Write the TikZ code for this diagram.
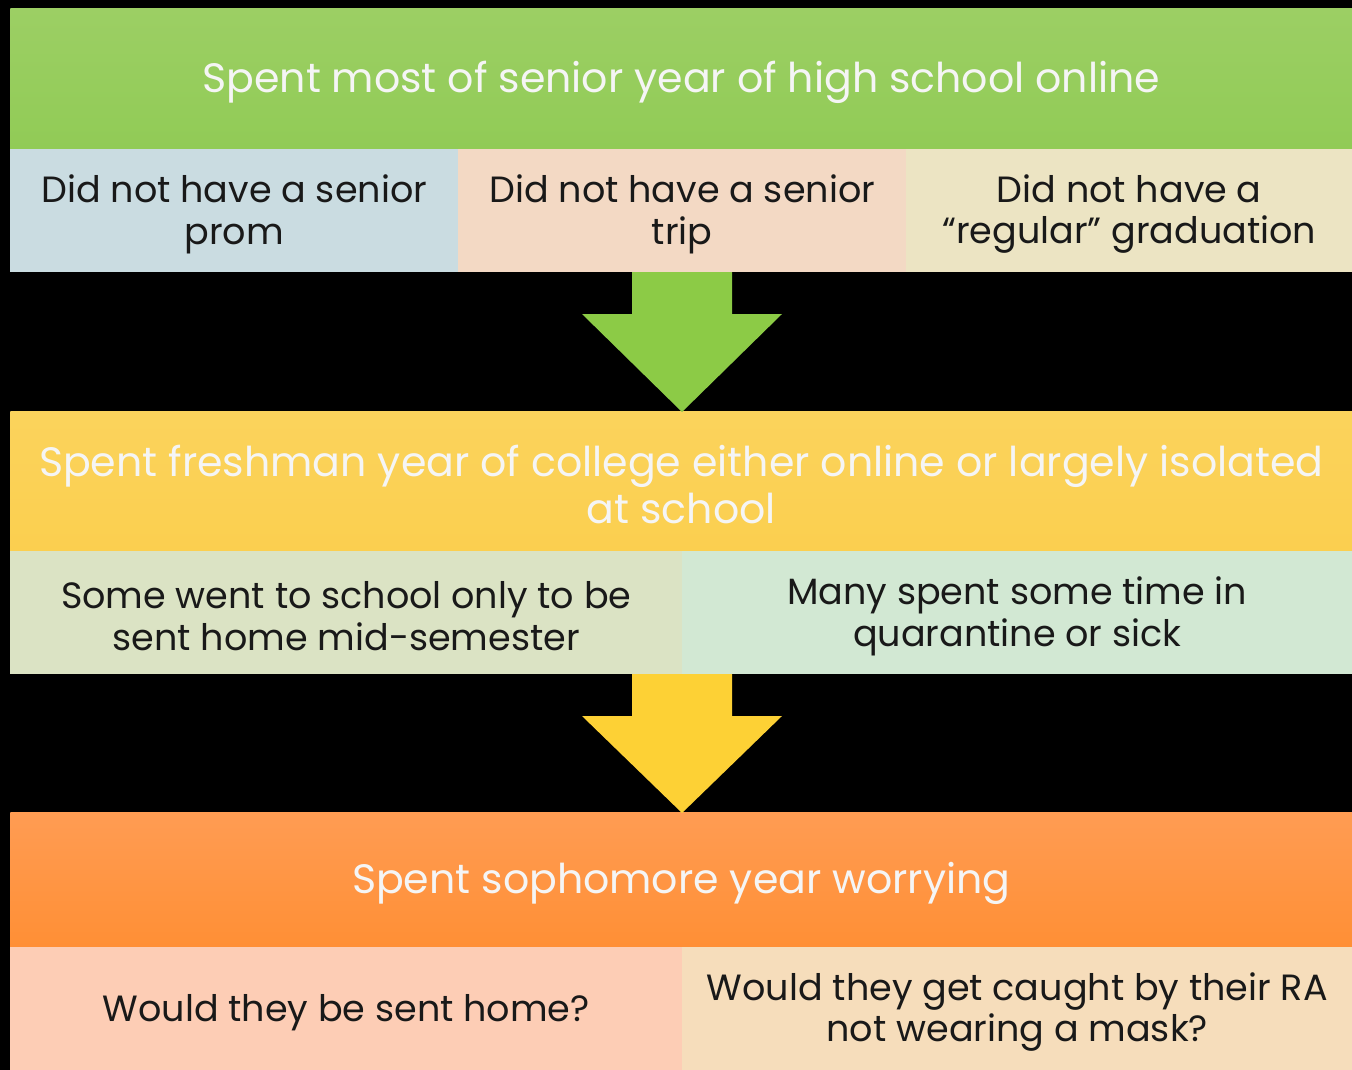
\documentclass[tikz,border=0pt]{standalone}
\usepackage{fontspec}
\setmainfont{Poppins}
\begin{document}
\begin{tikzpicture}[x=0.75pt,y=-0.75pt,
  box/.style={draw=none,anchor=north west,inner sep=0pt},
  hdr/.style={inner sep=0pt,text=white!96!black,align=center,yshift=-3.5*0.75pt,font=\fontsize{30.8}{35.5}\selectfont},
  sub/.style={inner sep=0pt,text=black!90,align=center,yshift=-3.5*0.75pt,font=\fontsize{27.4}{31}\selectfont}]
\fill[black] (0,0) rectangle (1352,1070);
\useasboundingbox (0,0) rectangle (1352,1070);
\definecolor{gA}{HTML}{9CCF64}\definecolor{gB}{HTML}{91CB56}
\definecolor{yA}{HTML}{FBD35C}\definecolor{yB}{HTML}{FBCF4F}
\definecolor{oA}{HTML}{FF9C53}\definecolor{oB}{HTML}{FF8F35}
\definecolor{s1}{HTML}{CADCE1}\definecolor{s2}{HTML}{F3D9C4}\definecolor{s3}{HTML}{ECE4C3}
\definecolor{s4}{HTML}{DBE3C4}\definecolor{s5}{HTML}{D2E8D3}
\definecolor{s6}{HTML}{FDCDB5}\definecolor{s7}{HTML}{F6DDBB}
\definecolor{arG}{HTML}{8CCB46}\definecolor{arY}{HTML}{FDD135}

\node[box,top color=gA,bottom color=gB,minimum width=1342*0.75pt,minimum height=141*0.75pt] (h1) at (10,8) {};
\node[hdr] (h1t) at (h1.center) {Spent most of senior year of high school online};
\node[box,fill=s1,minimum width=448*0.75pt,minimum height=123*0.75pt] (a1) at (10,149) {};
\node[sub] (a1t) at (a1.center) {Did not have a senior\\prom};
\node[box,fill=s2,minimum width=448*0.75pt,minimum height=123*0.75pt] (a2) at (458,149) {};
\node[sub] (a2t) at (a2.center) {Did not have a senior\\trip};
\node[box,fill=s3,minimum width=446*0.75pt,minimum height=123*0.75pt] (a3) at (906,149) {};
\node[sub] (a3t) at (a3.center) {Did not have a\\“regular” graduation};

\node[box,top color=yA,bottom color=yB,minimum width=1342*0.75pt,minimum height=140*0.75pt] (h2) at (10,411) {};
\node[hdr] (h2t) at (h2.center) {Spent freshman year of college either online or largely isolated\\at school};
\node[box,fill=s4,minimum width=672*0.75pt,minimum height=123*0.75pt] (b1) at (10,551) {};
\node[sub] (b1t) at (b1.center) {Some went to school only to be\\sent home mid-semester};
\node[box,fill=s5,minimum width=670*0.75pt,minimum height=123*0.75pt] (b2) at (682,551) {};
\node[sub] (b2t) at (b2.center) {Many spent some time in\\quarantine or sick};

\node[box,top color=oA,bottom color=oB,minimum width=1342*0.75pt,minimum height=135*0.75pt] (h3) at (10,812) {};
\node[hdr] (h3t) at (h3.center) {Spent sophomore year worrying};
\node[box,fill=s6,minimum width=672*0.75pt,minimum height=123*0.75pt] (c1) at (10,947) {};
\node[sub] (c1t) at (c1.center) {Would they be sent home?};
\node[box,fill=s7,minimum width=670*0.75pt,minimum height=123*0.75pt] (c2) at (682,947) {};
\node[sub] (c2t) at (c2.center) {Would they get caught by their RA\\not wearing a mask?};

\fill[arG] (632,272) -- (732,272) -- (732,314) -- (782,314) -- (682,412) -- (582,314) -- (632,314) -- cycle;
\fill[arY] (632,674) -- (732,674) -- (732,716) -- (782,716) -- (682,813) -- (582,716) -- (632,716) -- cycle;
\end{tikzpicture}
\end{document}
